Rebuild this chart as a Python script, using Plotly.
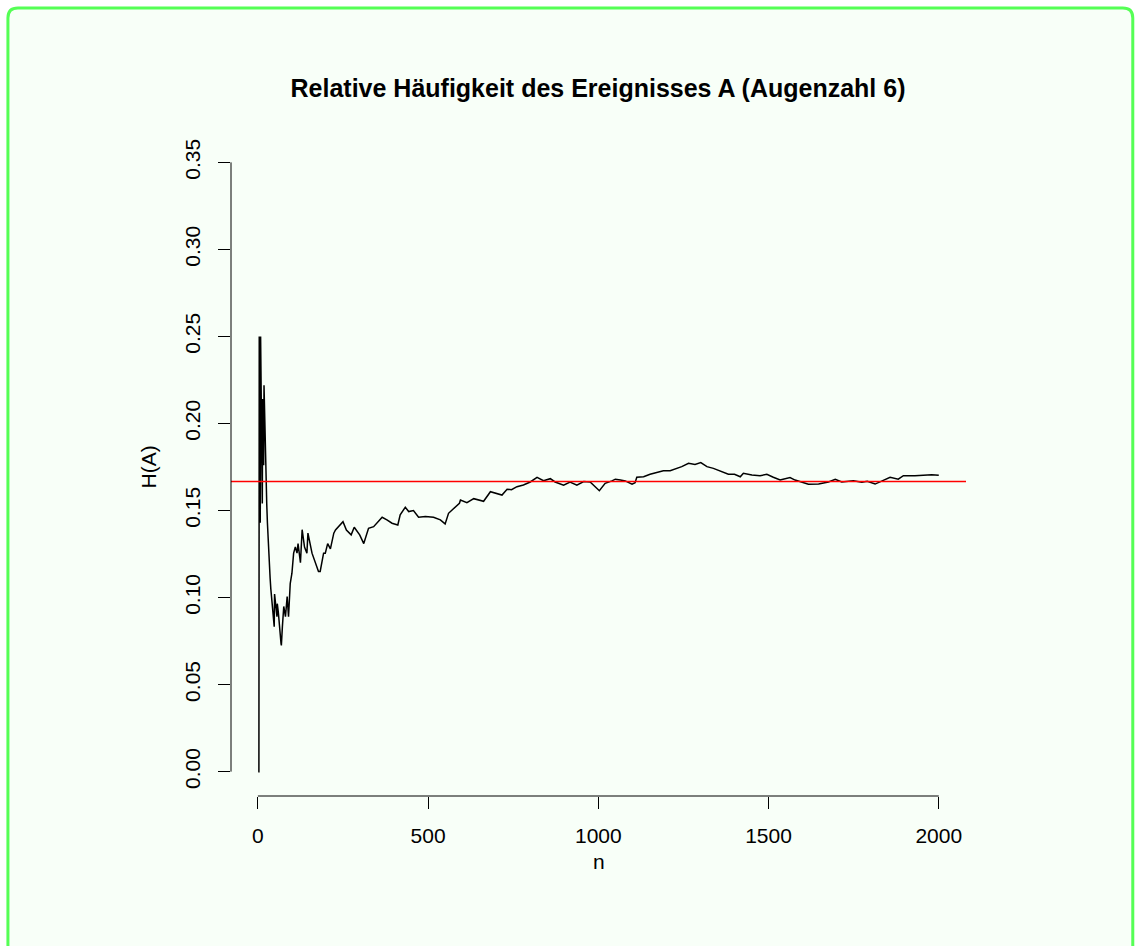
import plotly.graph_objects as go

# ---- data ----
n_vals = [1, 2, 3, 4, 5, 6, 7, 8, 9, 10, 11, 12, 13, 14, 15, 16, 17, 18, 19, 20,
          21, 22, 23, 24, 26, 28, 30, 32, 34, 36, 38, 40, 42, 44, 46, 48,
          49, 56, 57, 60, 68, 69, 72, 76, 81, 86, 90, 95, 100, 105, 110, 115, 118,
          125, 130, 137, 144, 147, 159, 172, 178, 183, 188, 193, 198, 205, 213, 223,
          228, 237, 250, 260, 274, 283, 299, 311, 325, 340, 355, 365, 379, 394, 411,
          418, 433, 443, 457, 472, 492, 516, 536, 550, 560, 575, 592, 595, 614, 634,
          648, 663, 683, 700, 717, 732, 745, 761, 780, 800, 820, 839, 859, 873, 898,
          917, 937, 957, 976, 1003, 1020, 1040, 1050, 1065, 1079, 1099, 1108, 1113,
          1133, 1152, 1172, 1191, 1211, 1231, 1245, 1265, 1284, 1301, 1319, 1338,
          1358, 1382, 1400, 1417, 1426, 1451, 1475, 1495, 1514, 1534, 1563, 1578,
          1617, 1647, 1676, 1696, 1715, 1749, 1774, 1790, 1813, 1833, 1857, 1881,
          1896, 1930, 1960, 1979, 2000]
h_vals = [0.0, 0.0, 0.0, 0.25, 0.20, 0.167, 0.143, 0.25, 0.222, 0.20, 0.182, 0.167,
          0.154, 0.214, 0.20, 0.1875, 0.176, 0.222, 0.2105, 0.20,
          0.1905, 0.1818, 0.1739, 0.1667, 0.154, 0.143, 0.133, 0.125, 0.118, 0.111,
          0.105, 0.10, 0.095, 0.091, 0.087, 0.0833,
          0.102, 0.089, 0.0965, 0.0917, 0.0735, 0.0725, 0.0833, 0.0949, 0.089, 0.1006,
          0.089, 0.108, 0.114, 0.1255, 0.129, 0.1255, 0.131,
          0.12, 0.139, 0.129, 0.1255, 0.137, 0.1255, 0.118, 0.115, 0.115, 0.1216,
          0.1255, 0.1255, 0.131, 0.128, 0.137,
          0.1388, 0.1407, 0.1436, 0.1388, 0.136, 0.1404, 0.136, 0.131, 0.1398, 0.1407,
          0.1436, 0.1461, 0.1446, 0.1427, 0.1417,
          0.1475, 0.1519, 0.1494, 0.150, 0.1461, 0.1465, 0.1461, 0.1446, 0.1423, 0.1484,
          0.1513, 0.1542, 0.156, 0.1545, 0.1568,
          0.156, 0.1553, 0.1608, 0.160, 0.1589, 0.1622, 0.162, 0.1637, 0.1647, 0.1664,
          0.1691, 0.1671, 0.1683, 0.1664, 0.1645,
          0.1664, 0.1645, 0.1666, 0.1664, 0.1614, 0.1656, 0.167, 0.168, 0.1675, 0.167,
          0.1652, 0.166, 0.1691,
          0.1694, 0.1708, 0.172, 0.1729, 0.1729, 0.1742, 0.1752, 0.1771, 0.1765, 0.1775,
          0.1752, 0.1742,
          0.1727, 0.1708, 0.1708, 0.1694, 0.1714, 0.1704, 0.1700, 0.1708, 0.1691, 0.1675,
          0.1689, 0.1675,
          0.1651, 0.1652, 0.1664, 0.168, 0.1664, 0.1671, 0.1662, 0.1668, 0.1652, 0.1668,
          0.1691, 0.168,
          0.170, 0.170, 0.1702, 0.1706, 0.1702]
p_true = 1 / 6

x_ticks = [0, 500, 1000, 1500, 2000]
x_tick_text = ["0", "500", "1000", "1500", "2000"]
y_ticks = [0.00, 0.05, 0.10, 0.15, 0.20, 0.25, 0.30, 0.35]
y_tick_text = ["0.00", "0.05", "0.10", "0.15", "0.20", "0.25", "0.30", "0.35"]

title_text = "Relative Häufigkeit des Ereignisses A (Augenzahl 6)"
x_label = "n"
y_label = "H(A)"

# ---- layout geometry (pixels) ----
W, H = 1136, 946
L, R, T, B = 230.6, 965.7, 137.6, 796.4
PW, PH = R - L, B - T
FONT = "Liberation Sans, Arial, Helvetica, sans-serif"
TICK_SIZE = 21


def px_x(px):
    return (px - L) / PW


def px_y(py):
    return (B - py) / PH


fig = go.Figure()
fig.add_trace(go.Scatter(x=n_vals, y=h_vals, mode="lines",
                         line=dict(color="black", width=1.5),
                         showlegend=False, hoverinfo="skip"))

# reference line at 1/6 drawn as a trace across the full padded x-range
fig.add_trace(go.Scatter(x=[-78.96, 2079.96], y=[p_true, p_true], mode="lines",
                         line=dict(color="red", width=1.5),
                         showlegend=False, hoverinfo="skip", cliponaxis=True))

# green rounded frame (page background)
x0, x1, y0, y1, r = 7.5, 1132.5, 7.5, 975.0, 10.0
frame_path = (
    f"M {px_x(x0)} {px_y(y1)} "
    f"L {px_x(x0)} {px_y(y0 + r)} "
    f"Q {px_x(x0)} {px_y(y0)} {px_x(x0 + r)} {px_y(y0)} "
    f"L {px_x(x1 - r)} {px_y(y0)} "
    f"Q {px_x(x1)} {px_y(y0)} {px_x(x1)} {px_y(y0 + r)} "
    f"L {px_x(x1)} {px_y(y1)} Z"
)
shapes = [
    dict(type="path", path=frame_path, xref="paper", yref="paper",
         line=dict(color="#55ff55", width=3), fillcolor="#f8fff8", layer="below"),
    # R-style axis lines spanning first to last tick
    dict(type="line", xref="x", x0=x_ticks[0], x1=x_ticks[-1], yref="paper", y0=0, y1=0,
         line=dict(color="black", width=1)),
    dict(type="line", xref="paper", x0=0, x1=0, yref="y", y0=y_ticks[0], y1=y_ticks[-1],
         line=dict(color="black", width=1)),
]

fig.update_layout(
    width=W, height=H,
    margin=dict(l=L, r=W - R, t=T, b=H - B, pad=0),
    paper_bgcolor="white",
    plot_bgcolor="rgba(0,0,0,0)",
    font=dict(family=FONT, color="black", size=TICK_SIZE),
    shapes=shapes,
    title=dict(text=title_text, x=598 / W, xanchor="center", xref="container",
               y=1 - 88 / H, yanchor="middle", yref="container",
               font=dict(family=FONT, size=25, weight="bold", color="black")),
    xaxis=dict(range=[-78.96, 2079.96], tickvals=x_ticks, ticktext=x_tick_text,
               showgrid=False, zeroline=False, showline=False,
               ticks="outside", ticklen=12, tickwidth=1, tickcolor="black",
               ticklabelstandoff=9,
               tickfont=dict(family=FONT, size=TICK_SIZE, color="black")),
    yaxis=dict(range=[-0.014, 0.364], tickvals=y_ticks, ticktext=y_tick_text,
               showgrid=False, zeroline=False, showline=False,
               ticks="outside", ticklen=12, tickwidth=1, tickcolor="black",
               tickangle=-90, ticklabelstandoff=10,
               tickfont=dict(family=FONT, size=TICK_SIZE, color="black")),
    annotations=[
        dict(text=x_label, xref="paper", yref="paper", x=0.5, y=px_y(862),
             xanchor="center", yanchor="middle", showarrow=False,
             font=dict(family=FONT, size=TICK_SIZE, color="black")),
        dict(text=y_label, xref="paper", yref="paper", x=px_x(148), y=0.5,
             xanchor="center", yanchor="middle", showarrow=False, textangle=-90,
             font=dict(family=FONT, size=TICK_SIZE, color="black")),
    ],
)

fig.write_html("out.html", config={"displayModeBar": False},
               post_script="document.body.style.margin='0';document.body.style.overflow='hidden';")
